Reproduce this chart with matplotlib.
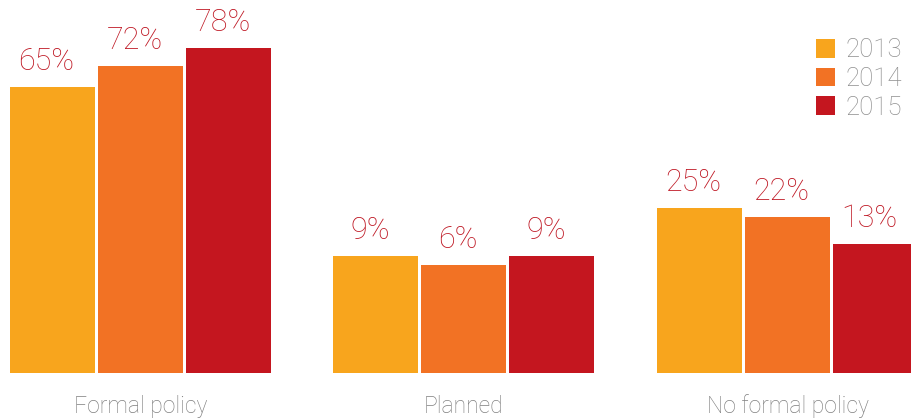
import numpy as np
import matplotlib.pyplot as plt

# data
categories = ['Formal policy', 'Planned', 'No formal policy']
years = ['2013', '2014', '2015']
values = {
    '2013': [65, 9, 25],
    '2014': [72, 6, 22],
    '2015': [78, 9, 13],
}
colors = ['#F8A51D', '#F27224', '#C4161F']
base = -30  # bars in the original start below zero

plt.rcParams['font.family'] = ['Roboto', 'DejaVu Sans']

fig = plt.figure(figsize=(9.12, 4.19), dpi=100)
ax = fig.add_axes([0, 46 / 419, 1, 373 / 419])

x = np.arange(len(categories))
width = 0.263
step = 0.272

for i, yr in enumerate(years):
    vals = np.array(values[yr])
    pos = x + (i - 1) * step
    ax.bar(pos, vals - base, width, bottom=base, color=colors[i], label=yr)
    for p, v in zip(pos, vals):
        ax.text(p - 0.018, v + 3.6, f'{v}%', ha='center', va='bottom',
                fontsize=22, color='#BE1622', fontweight='light')

for xi, cat in zip(x, categories):
    ax.text(xi, base - 11, cat, ha='center', va='center', fontsize=16.5,
            color='#808080', fontweight='light', clip_on=False)

ax.set_xlim(-0.434, 2.385)
ax.set_ylim(base, 94)
ax.axis('off')

leg = ax.legend(loc='upper right', frameon=False, fontsize=18.5,
                handlelength=0.75, handleheight=0.75, handletextpad=0.4,
                labelspacing=0.18, borderaxespad=0.0, bbox_to_anchor=(1.0, 0.925))
for t in leg.get_texts():
    t.set_color('#8F8F8F')
    t.set_fontweight('light')

fig.savefig('out.png', dpi=100)
